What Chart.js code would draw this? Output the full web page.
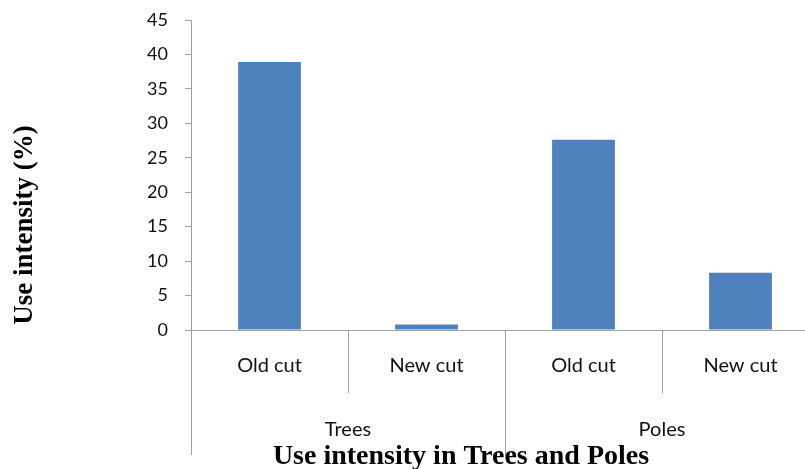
<!DOCTYPE html>
<html>
<head>
<meta charset="utf-8">
<script src="https://cdn.jsdelivr.net/npm/chart.js@4/dist/chart.umd.min.js"></script>
<style>
  html, body { margin: 0; padding: 0; background: #fff; overflow: hidden; }
  #wrap { width: 830px; height: 469px; }
</style>
</head>
<body>
<div id="wrap"><canvas id="c" width="830" height="469"></canvas></div>
<script>
// Use intensity (%) of trees and poles, split into old and new cuts
const groups = ['Trees', 'Poles'];
const cutTypes = ['Old cut', 'New cut'];
const treesValues = [38.9, 0.8];
const polesValues = [27.6, 8.3];
const yTicks = [0, 5, 10, 15, 20, 25, 30, 35, 40, 45];

const xTitle = 'Use intensity in Trees and Poles';
const yTitle = 'Use intensity (%)';

const labels = [];
groups.forEach(() => cutTypes.forEach(c => labels.push(c)));
const values = [...treesValues, ...polesValues];

const axisColor = '#a0a0a0';
const textColor = '#111';
const tickFont = { family: 'Lato, "Open Sans", sans-serif', size: 20 };

// Draws the two-level category axis (group separators, group names) and axis titles
const groupAxis = {
  id: 'groupAxis',
  afterDraw(chart) {
    const { ctx, scales: { x }, chartArea } = chart;
    const per = cutTypes.length;
    const half = (x.getPixelForValue(1) - x.getPixelForValue(0)) / 2;
    const base = chartArea.bottom;
    ctx.save();
    ctx.strokeStyle = axisColor;
    ctx.lineWidth = 1;
    for (let i = 0; i <= labels.length; i++) {
      const px = Math.round(x.getPixelForValue(i) - half) + 0.5;
      const end = (i % per === 0) ? 455 : 393;
      ctx.beginPath();
      ctx.moveTo(px, base);
      ctx.lineTo(px, end);
      ctx.stroke();
    }
    ctx.fillStyle = textColor;
    ctx.font = `${tickFont.size}px ${tickFont.family}`;
    ctx.textAlign = 'center';
    ctx.textBaseline = 'middle';
    groups.forEach((g, gi) => {
      const a = x.getPixelForValue(gi * per) - half;
      const b = x.getPixelForValue(gi * per + per - 1) + half;
      ctx.fillText(g, (a + b) / 2, 430);
    });
    ctx.fillStyle = '#000';
    ctx.textBaseline = 'alphabetic';
    ctx.font = 'bold 28px "Liberation Serif", "Times New Roman", serif';
    ctx.fillText(xTitle, 461, 464);
    ctx.font = 'bold 27px "Liberation Serif", "Times New Roman", serif';
    ctx.translate(32, 225);
    ctx.rotate(-Math.PI / 2);
    ctx.fillText(yTitle, 0, 0);
    ctx.restore();
  }
};

new Chart(document.getElementById('c'), {
  type: 'bar',
  data: {
    labels: labels,
    datasets: [{
      data: values,
      backgroundColor: '#4F81BD',
      borderWidth: 0,
      barPercentage: 0.4,
      categoryPercentage: 1.0
    }]
  },
  options: {
    responsive: false,
    animation: false,
    layout: { padding: { top: 20, right: 11, left: 0, bottom: 0 } },
    plugins: { legend: { display: false }, tooltip: { enabled: false } },
    scales: {
      x: {
        afterFit(scale) { scale.height = 139; },
        grid: { display: false, drawTicks: false },
        border: { display: true, color: axisColor, width: 1 },
        ticks: { color: textColor, font: tickFont, padding: 24, maxRotation: 0, autoSkip: false }
      },
      y: {
        min: 0,
        max: 45,
        afterFit(scale) {
          scale.width = 191;
          scale.paddingTop = 0;
          scale.paddingBottom = 0;
        },
        afterBuildTicks(scale) { scale.ticks = yTicks.map(v => ({ value: v })); },
        grid: { drawOnChartArea: false, drawTicks: true, tickLength: 6, color: axisColor },
        border: { display: true, color: axisColor, width: 1 },
        ticks: { color: textColor, font: { family: 'Lato, "Open Sans", sans-serif', size: 18 }, padding: 17 }
      }
    }
  },
  plugins: [groupAxis]
});
</script>
</body>
</html>
